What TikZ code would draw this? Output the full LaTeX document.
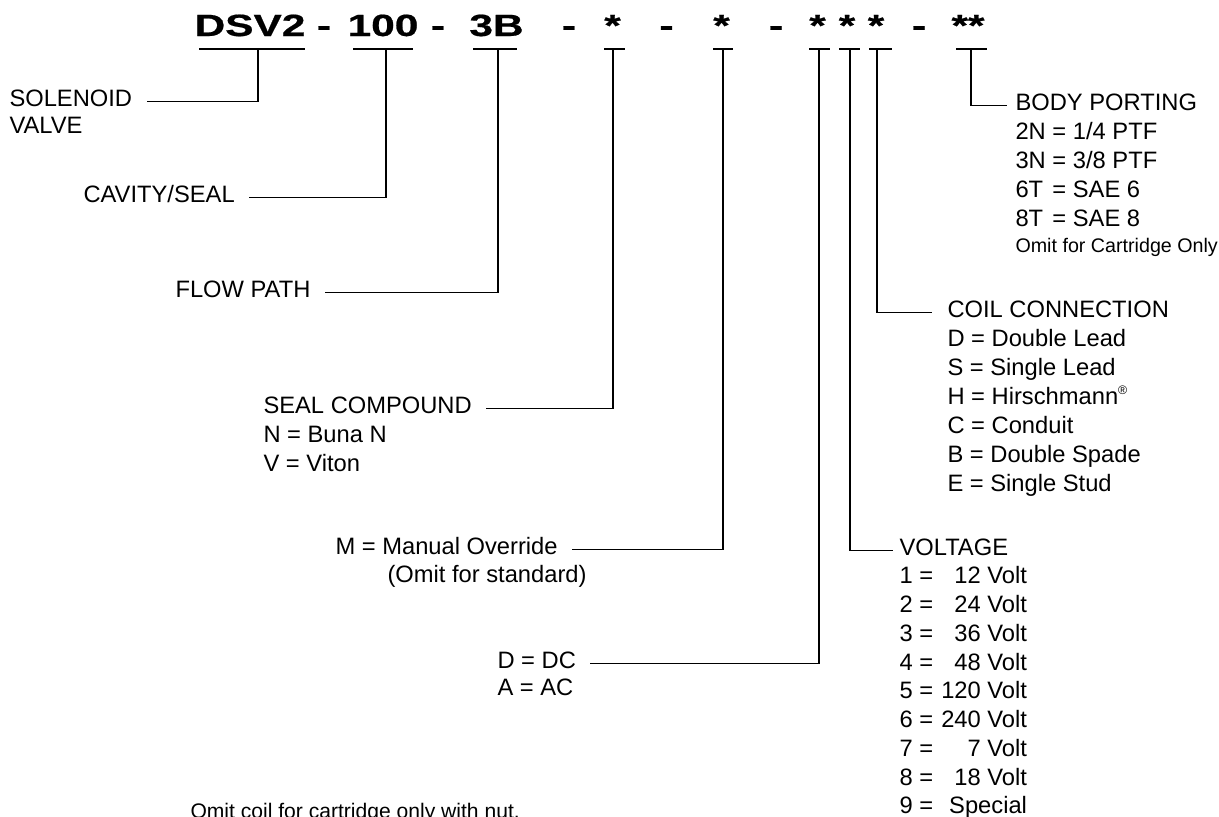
\documentclass[tikz,border=0pt]{standalone}
\usepackage{fontspec}
\setmainfont{Liberation Sans}
\newfontfamily\codefont{Liberation Sans}[FakeBold=0.6]
\usepackage{tikz}
\usetikzlibrary{positioning}

\newcommand{\codepart}[1]{\scalebox{1.38}[1]{#1}}
\newcommand{\regmark}{\raisebox{0.75ex}{\fontsize{7}{7}\selectfont ®}}

\begin{document}
\begin{tikzpicture}[
    x=0.02cm, y=-0.02cm,
    line width=0.6pt,
    % code letters on top and the label texts
    code/.style={anchor=base, inner sep=0pt, font=\fontsize{17.5}{20}\codefont\bfseries},
    lbl/.style={anchor=base west, inner sep=0pt, font=\fontsize{13.5}{16.4}\selectfont},
    note/.style={anchor=base west, inner sep=0pt, font=\fontsize{11.2}{13}\selectfont},
    uline/.style={draw, line width=0.7pt},
    lead/.style={draw, shorten >=0.28cm},
]
\useasboundingbox (0,0) rectangle (1219,816);

% -------------------------
% Model code
% -------------------------
\foreach \nm/\xc/\txt in {cDSV/250/DSV2, d1/324/-, c100/383/100, d2/438/-,
    c3B/496.5/3B, d3/569/-, cs1/612.5/*, d4/666.5/-, cs2/721.5/*, d5/776/-,
    cs3/817.5/*, cs4/847/*, cs5/876/*, d6/919/-, cs6/968/**}{
  \node[code] (\nm) at (\xc,36) {\codepart{\txt}};
}

% underlines and tick points
\foreach \nm/\xa/\xb/\xt in {DSV/199/305/258, 100/353/413/386, 3B/473/517/498,
    s1/604/625/613, s2/713/733/723, s3/809/830/819, s4/839/860/850,
    s5/869/892/877, s6/956/987/971}{
  \draw[uline] (\xa,49) -- (\xb,49);
  \coordinate (t\nm) at (\xt,49);
}

% -------------------------
% Left labels
% -------------------------
\node[lbl] (sol)  at (9,106) {SOLENOID};
\node[lbl] (solB) at (9,133) {VALVE};
\node[lbl] (cav)  at (83,202) {CAVITY/SEAL};
\node[lbl] (flow) at (175,297) {FLOW PATH};

\node[lbl] (seal) at (263,413) {SEAL COMPOUND};
\foreach \txt [count=\i] in {N = Buna N, V = Viton}
  \node[lbl] (seal\i) at (263,{413+29*\i}) {\txt};

\node[lbl] (man)  at (335,554) {M = Manual Override};
\node[lbl] (manB) at (387,582) {(Omit for standard)};

\node[lbl] (dc) at (497,668) {D = DC};
\node[lbl] (ac) at (497,695) {A = AC};

\node[lbl, font=\fontsize{12}{14}\selectfont] (omit) at (190,818) {Omit coil for cartridge only with nut.};

% -------------------------
% Right labels
% -------------------------
\node[lbl] (body) at (1015,110) {BODY PORTING};
\foreach \cd/\val [count=\i] in {2N/{1/4 PTF}, 3N/{3/8 PTF}, 6T/{SAE 6}, 8T/{SAE 8}}
  \node[lbl] (body\i) at (1015,{110+29*\i}) {\makebox[1.28em][l]{\cd} = \val};
\node[note] (bodyN) at (1015,252) {Omit for Cartridge Only};

\node[lbl] (coil) at (947,317) {COIL CONNECTION};
\foreach \txt [count=\i] in {D = Double Lead, S = Single Lead, H = Hirschmann\regmark,
    C = Conduit, B = Double Spade, E = Single Stud}
  \node[lbl] (coil\i) at (947,{317+29*\i}) {\txt};

\node[lbl] (volt) at (899,555) {VOLTAGE};
\foreach \cd/\val in {1/12 Volt, 2/24 Volt, 3/36 Volt, 4/48 Volt, 5/120 Volt,
    6/240 Volt, 7/7 Volt, 8/18 Volt, 9/Special}
  \node[lbl] (volt\cd) at (899,{555+28.75*\cd}) {\hbox to 2.55cm{\cd\ =\hfil\val}};

% -------------------------
% Leader lines
% -------------------------
\draw[lead] (tDSV) |- (sol.mid east);
\draw[lead] (t100) |- (cav.mid east);
\draw[lead] (t3B)  |- (flow.mid east);
\draw[lead] (ts1)  |- (seal.mid east);
\draw[lead] (ts2)  |- (man.mid east);
\draw[lead] (ts3)  |- (dc.mid east);
\draw[lead, shorten >=0.12cm] (ts4) |- (volt.mid west);
\draw[lead, shorten >=0.3cm]  (ts5) |- (coil.mid west);
\draw[lead, shorten >=0.16cm] (ts6) |- (body.mid west);

\end{tikzpicture}
\end{document}
